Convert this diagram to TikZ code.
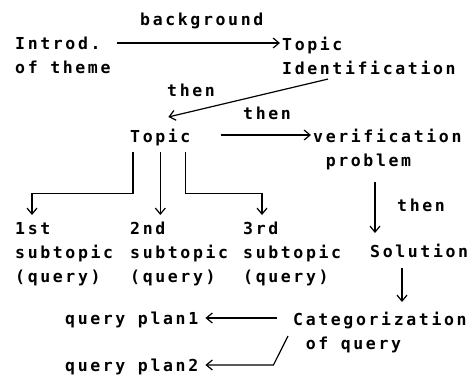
\documentclass[tikz,border=0pt]{standalone}
\usepackage{fontspec}
\newfontfamily\twfont[LetterSpace=16]{DejaVu Sans Mono Bold}
\usetikzlibrary{arrows.meta,calc}

\begin{document}
\begin{tikzpicture}[
  x=1pt, y=-1pt,
  txt/.style={anchor=north west, align=left, inner sep=2pt, font=\twfont\fontsize{16.5}{24}\selectfont},
  arr/.style={-{Straight Barb[length=6pt,width=10pt]}, line width=1.2pt},
]
\useasboundingbox (0,0) rectangle (475,375);

% Text blocks (top to bottom)
\node[txt] (bg) at (138,11) {background};
\node[txt] (intro) at (13,35) {Introd.\\of theme};
\node[txt] (topicid) at (280,35) {Topic\\Identification};
\node[txt] (then1) at (165,82) {then};
\node[txt] (then2) at (241,105) {then};
\node[txt] (topic) at (128,127) {Topic};
\node[txt] (verif) at (311,127) {verification\\\ problem};
\node[txt] (then3) at (395,197) {then};
\node[txt] (sub1) at (13,220) {1st\\subtopic\\(query)};
\node[txt] (sub2) at (128,220) {2nd\\subtopic\\(query)};
\node[txt] (sub3) at (241,220) {3rd\\subtopic\\(query)};
\node[txt] (sol) at (368,242) {Solution};
\node[txt] (cat) at (291,310) {Categorization\\\ of query};
\node[txt] (plan1) at (63,310) {query plan1};
\node[txt] (plan2) at (63,357) {query plan2};

% Main chain
\draw[arr] ([shift={(4pt,-8pt)}]intro.north east) -- ([yshift=-8pt]topicid.north west);
\draw[arr] ([shift={(48pt,-2pt)}]topicid.south west) -- ([shift={(8pt,10pt)}]topic.north);
\draw[arr] ([shift={(28pt,-8pt)}]topic.north east) -- ([yshift=-8pt]verif.north west);
\draw[arr] ([shift={(64pt,-10pt)}]verif.south west) -- ([shift={(7pt,9pt)}]sol.north west);
\draw[arr] ([shift={(34pt,-8pt)}]sol.south west) -- ([shift={(111pt,8pt)}]cat.north west);

% Subtopic branches
\draw[arr] ([shift={(5pt,-4pt)}]topic.south west) -- ++(0,41) -| ([shift={(19pt,5pt)}]sub1.north west);
\draw[arr] ([yshift=-4pt]topic.south) -- ($(topic.south |- sub2.north)+(0,-5)$);
\draw[arr] ([shift={(-7pt,-4pt)}]topic.south east) -- ++(0,41) -| ([shift={(21pt,5pt)}]sub3.north west);

% Query plans
\draw[arr] ([shift={(-14pt,-8pt)}]cat.north west) -- ([shift={(5pt,-8pt)}]plan1.north east);
\draw[arr] ([shift={(-3pt,-26pt)}]cat.north west) -- ([shift={(73pt,-8pt)}]plan2.north east) -- ([shift={(5pt,-8pt)}]plan2.north east);

\end{tikzpicture}
\end{document}
